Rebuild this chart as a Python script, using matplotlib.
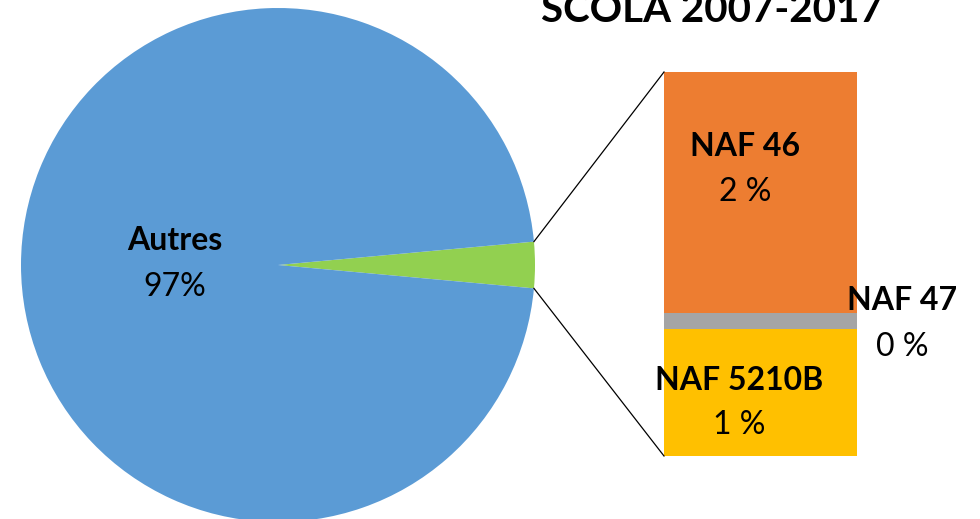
import matplotlib.pyplot as plt
import numpy as np

plt.rcParams['font.family'] = ['Lato', 'DejaVu Sans']

# pie part
pie_labels = ["Autres", ""]
pie_values = [97.1, 2.9]
pie_pct = ["97%", ""]

# bar part (breakdown of the small slice), bottom to top
bar_labels = ["NAF 5210B", "NAF 47", "NAF 46"]
bar_values = [0.96, 0.12, 1.82]
bar_pct = ["1 %", "0 %", "2 %"]

title = "SCOLA 2007-2017"

W, H = 980, 519
fig = plt.figure(figsize=(9.8, 5.19), dpi=100)
ax = fig.add_axes([0, 0, 1, 1])

cx, cy, r = 278, 254, 257
small = pie_values[1]
half = small / sum(pie_values) * 360 / 2
ax.pie([pie_values[1], pie_values[0]], colors=["#92D050", "#5B9BD5"],
       startangle=-half, counterclock=True, center=(cx, cy), radius=r,
       wedgeprops=dict(linewidth=0), frame=True)
ax.set_xlim(0, W)
ax.set_ylim(0, H)
ax.set_aspect('equal')
ax.axis('off')

fs = 23
ax.text(175, 278, pie_labels[0], ha='center', va='center', fontsize=fs, fontweight='bold')
ax.text(175, 232, pie_pct[0], ha='center', va='center', fontsize=fs)

# stacked bar
bx0, bx1 = 664, 857
by0, by1 = 63, 447
bar_colors = ["#FFC000", "#A5A5A5", "#ED7D31"]
scale = (by1 - by0) / sum(bar_values)
bottom = by0
for v, c in zip(bar_values, bar_colors):
    ax.bar((bx0 + bx1) / 2, v * scale, width=bx1 - bx0, bottom=bottom, color=c, linewidth=0)
    bottom += v * scale

# connector lines
a = np.deg2rad(half)
ax.plot([cx + r * np.cos(a), bx0], [cy + r * np.sin(a), by1], color='black', lw=0.9)
ax.plot([cx + r * np.cos(a), bx0], [cy - r * np.sin(a), by0], color='black', lw=0.9)

# bar labels
ax.text(745, 373, bar_labels[2], ha='center', va='center', fontsize=fs, fontweight='bold')
ax.text(745, 327, bar_pct[2], ha='center', va='center', fontsize=fs)
ax.text(902, 219, bar_labels[1], ha='center', va='center', fontsize=fs, fontweight='bold')
ax.text(902, 172, bar_pct[1], ha='center', va='center', fontsize=fs)
ax.text(739, 138, bar_labels[0], ha='center', va='center', fontsize=fs, fontweight='bold')
ax.text(739, 94, bar_pct[0], ha='center', va='center', fontsize=fs)

ax.text(712, 497, title, ha='center', va='baseline', fontsize=29, fontweight='bold')

fig.savefig("out.png", dpi=100)
